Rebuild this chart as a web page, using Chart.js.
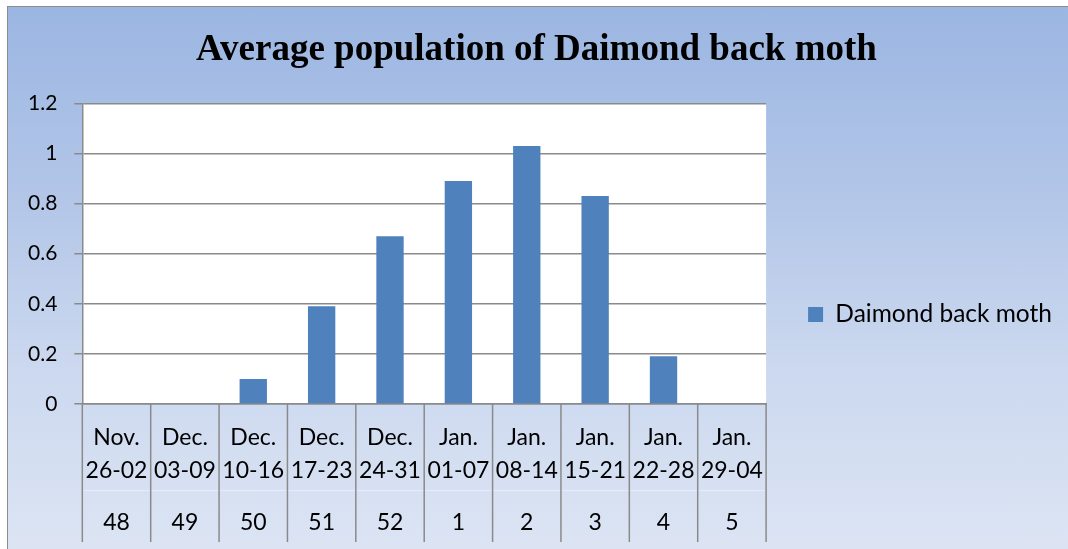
<!DOCTYPE html>
<html>
<head>
<meta charset="utf-8">
<script src="https://cdn.jsdelivr.net/npm/chart.js@4"></script>
<style>
  html, body { margin: 0; padding: 0; background: #fff; }
  #frame {
    position: absolute; left: 7px; top: 6px; width: 1070px; height: 550px;
    border-top: 1px solid #8c8c8c; border-left: 1px solid #8c8c8c;
    background: linear-gradient(to bottom, #9bb6e2 0%, #b3c6e8 35%, #cbd8ef 65%, #dde5f4 100%);
  }
  #wrap { position: absolute; left: 0; top: 0; width: 1068px; height: 549px; }
</style>
</head>
<body>
<div id="frame"></div>
<div id="wrap"><canvas id="mothChart"></canvas></div>
<script>
// data
const weekRanges = [
  ["Nov.", "26-02"], ["Dec.", "03-09"], ["Dec.", "10-16"], ["Dec.", "17-23"], ["Dec.", "24-31"],
  ["Jan.", "01-07"], ["Jan.", "08-14"], ["Jan.", "15-21"], ["Jan.", "22-28"], ["Jan.", "29-04"]
];
const weekNumbers = ["48", "49", "50", "51", "52", "1", "2", "3", "4", "5"];
const mothPopulation = [0, 0, 0.1, 0.39, 0.67, 0.89, 1.03, 0.83, 0.19, 0];

const seriesName = "Daimond back moth";
const chartTitle = "Average population of Daimond back moth";

const gridGray = '#8a8a8a';
const labelFont = 'Lato, "Open Sans", sans-serif';

// white plot area
const plotBg = {
  id: 'plotBg',
  beforeDraw(chart) {
    const a = chart.chartArea;
    const ctx = chart.ctx;
    ctx.save();
    ctx.fillStyle = '#ffffff';
    ctx.fillRect(a.left, a.top, a.right - a.left, a.bottom - a.top);
    ctx.restore();
  }
};

// category separators running down through both label rows
const categoryLines = {
  id: 'categoryLines',
  afterDraw(chart) {
    const xs = chart.scales.x;
    const x2 = chart.scales.x2;
    const ctx = chart.ctx;
    const n = xs.ticks.length;
    const step = (xs.right - xs.left) / n;
    ctx.save();
    // faint divider between the two label rows
    ctx.strokeStyle = 'rgba(255,255,255,0.45)';
    ctx.lineWidth = 1;
    ctx.beginPath();
    ctx.moveTo(xs.left, x2.top - 14);
    ctx.lineTo(xs.right, x2.top - 14);
    ctx.stroke();
    ctx.strokeStyle = gridGray;
    ctx.lineWidth = 1.5;
    for (let i = 0; i <= n; i++) {
      const px = xs.left + i * step;
      ctx.beginPath();
      ctx.moveTo(px, chart.chartArea.bottom);
      ctx.lineTo(px, x2.bottom + 1);
      ctx.stroke();
    }
    ctx.restore();
  }
};

const ctx = document.getElementById('mothChart').getContext('2d');
const mothChart = new Chart(ctx, {
  type: 'bar',
  data: {
    labels: weekRanges,
    datasets: [{
      label: seriesName,
      data: mothPopulation,
      backgroundColor: '#4f81bd',
      borderWidth: 0,
      categoryPercentage: 1,
      barPercentage: 0.4
    }]
  },
  options: {
    responsive: true,
    maintainAspectRatio: false,
    animation: false,
    layout: { padding: { left: 11, right: 6, top: 20, bottom: 8 } },
    plugins: {
      title: {
        display: true,
        text: chartTitle,
        color: '#000',
        font: { family: '"Liberation Serif", "Times New Roman", serif', size: 37, weight: 'bold', lineHeight: 1.2 },
        padding: { top: 8, bottom: 31 }
      },
      legend: {
        position: 'right',
        maxWidth: 340,
        title: { display: true, text: ' ', font: { size: 10, lineHeight: 1.2 }, padding: { top: 0, bottom: 56 } },
        labels: {
          color: '#000',
          font: { family: labelFont, size: 24.5 },
          boxWidth: 15,
          boxHeight: 15,
          padding: 42
        }
      },
      tooltip: { enabled: false }
    },
    scales: {
      y: {
        min: 0,
        max: 1.2,
        ticks: {
          stepSize: 0.2,
          color: '#000',
          padding: 17,
          font: { family: labelFont, size: 21 },
          callback: v => String(Math.round(v * 10) / 10)
        },
        grid: { color: gridGray, lineWidth: 1.5, tickLength: 8 },
        border: { color: gridGray, width: 1.5 }
      },
      x: {
        weight: 0,
        ticks: {
          color: '#000',
          padding: 17,
          maxRotation: 0,
          autoSkip: false,
          font: { family: labelFont, size: 23, lineHeight: 1.45 }
        },
        grid: { offset: true, drawOnChartArea: false, drawTicks: false },
        border: { color: gridGray, width: 1.5 }
      },
      x2: {
        type: 'category',
        position: 'bottom',
        weight: 1,
        labels: weekNumbers,
        offset: true,
        ticks: {
          color: '#000',
          padding: 1.5,
          maxRotation: 0,
          autoSkip: false,
          font: { family: labelFont, size: 23, lineHeight: 1.45 }
        },
        grid: { display: false, drawTicks: false },
        border: { display: false }
      }
    }
  },
  plugins: [plotBg, categoryLines]
});
</script>
</body>
</html>
